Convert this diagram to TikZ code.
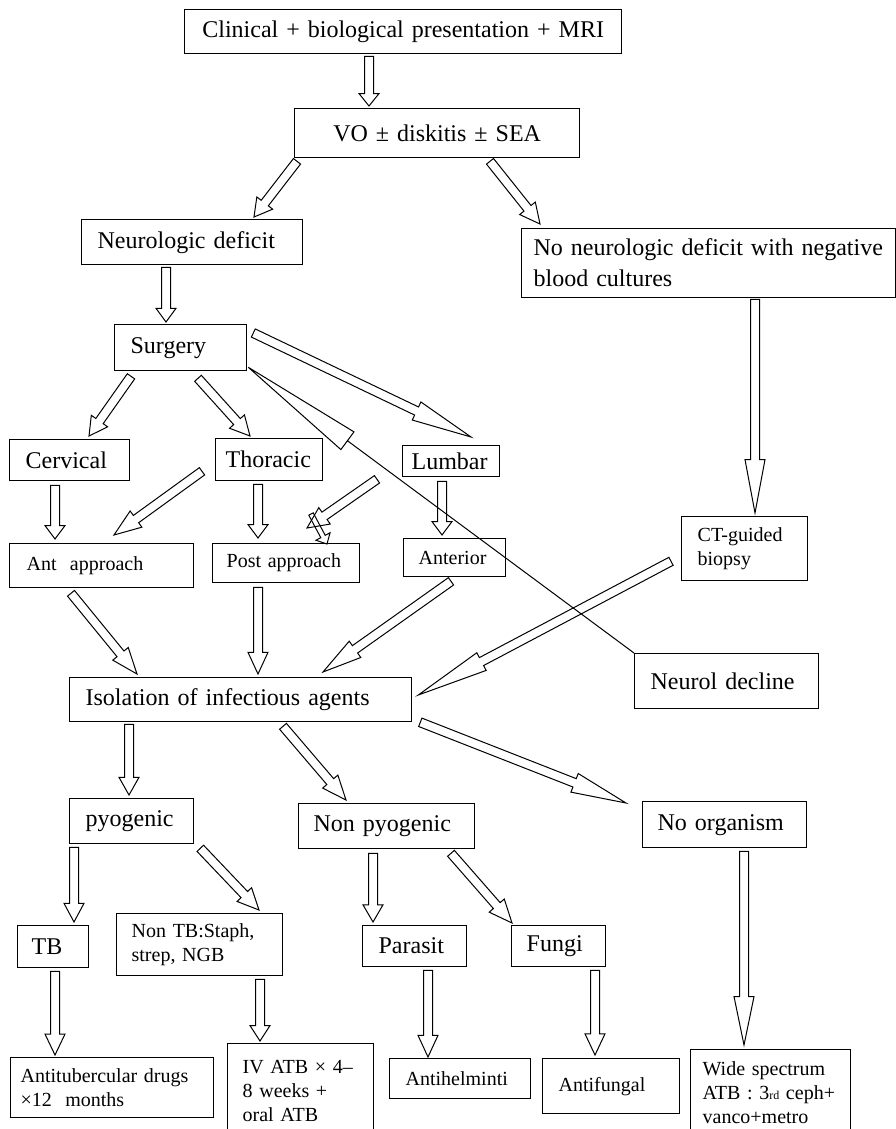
\documentclass[tikz,border=0pt]{standalone}
\usepackage{fontspec}
\setmainfont{Liberation Serif}
\usetikzlibrary{calc}

\newcommand{\bigtxt}{\fontsize{24}{31}\selectfont}
\newcommand{\smalltxt}{\fontsize{20}{24}\selectfont}
% hollow block arrow: [shaft half width]{tail}{tip}
\newcommand{\blk}[3][4.5]{%
  \pgfmathsetmacro\blkhw{#1+5.5}%
  \coordinate (ba) at (#2);
  \coordinate (bb) at (#3);
  \coordinate (bh) at ($(bb)!0.25!(ba)$);
  \draw[blkline] ($(ba)!#1pt!90:(bb)$) -- ($(bh)!#1pt!90:(bb)$) -- ($(bh)!\blkhw pt!90:(bb)$) -- (bb)
    -- ($(bh)!\blkhw pt!-90:(bb)$) -- ($(bh)!#1pt!-90:(bb)$) -- ($(ba)!#1pt!-90:(bb)$) -- cycle;}

\begin{document}
\begin{tikzpicture}[
    x=1pt, y=-1pt,
    box/.style={draw, line width=1.3pt, anchor=north west, inner ysep=0pt,
                align=left, font=\bigtxt},
    small/.style={font=\smalltxt},
    blkline/.style={line width=1pt, line join=miter},
  ]
  \useasboundingbox (0,0) rectangle (896,1129);

  % top
  \node[box, align=center, minimum width=437pt, minimum height=44pt, inner xsep=10pt, text width=417pt] (clin) at (184,9) {Clinical + biological presentation + MRI};
  \node[box, align=center, minimum width=285pt, minimum height=49pt, inner xsep=10pt, text width=265pt] (vo) at (294,108) {VO ± diskitis ± SEA};
  \node[box, minimum width=221pt, minimum height=45pt, inner xsep=16pt, text width=189pt] (neuro) at (81,219) {Neurologic deficit};
  \node[box, minimum width=374pt, minimum height=69pt, inner xsep=12pt, text width=350pt] (nond) at (521,228) {No neurologic deficit with negative\\blood cultures};

  % surgery
  \node[box, minimum width=132pt, minimum height=46pt, inner xsep=16pt, text width=100pt] (surg) at (114,324) {Surgery};
  \node[box, minimum width=120pt, minimum height=41pt, inner xsep=16pt, text width=88pt] (cerv) at (9,439) {Cervical};
  \node[box, minimum width=107pt, minimum height=42pt, inner xsep=10pt, text width=87pt] (thor) at (215,438) {Thoracic};
  \node[box, minimum width=97pt, minimum height=31pt, inner xsep=9pt, text width=79pt] (lumb) at (402,445) {Lumbar};
  \node[box, small, minimum width=184pt, minimum height=44pt, inner xsep=17pt, text width=150pt] (antap) at (9,543) {Ant\ \ approach};
  \node[box, small, minimum width=147pt, minimum height=39pt, inner xsep=14pt, text width=119pt] (postap) at (212,543) {Post approach};
  \node[box, small, minimum width=102pt, minimum height=38pt, inner xsep=15pt, text width=72pt] (anter) at (403,538) {Anterior};
  \node[box, small, minimum width=126pt, minimum height=64pt, inner xsep=16pt, text width=94pt] (ct) at (681,516) {CT-guided\\biopsy};
  \node[box, minimum width=342pt, minimum height=44pt, inner xsep=16pt, text width=310pt] (iso) at (69,677) {Isolation of infectious agents};
  \node[box, minimum width=184pt, minimum height=55pt, inner xsep=16pt, text width=152pt] (ndec) at (634,653) {Neurol decline};

  % agents
  \node[box, minimum width=124pt, minimum height=45pt, inner xsep=16pt, text width=92pt] (pyo) at (69,798) {pyogenic};
  \node[box, minimum width=176pt, minimum height=45pt, inner xsep=15pt, text width=146pt] (npyo) at (298,803) {Non pyogenic};
  \node[box, minimum width=164pt, minimum height=46pt, inner xsep=15pt, text width=134pt] (norg) at (642,801) {No organism};
  \node[box, minimum width=71pt, minimum height=42pt, inner xsep=14pt, text width=43pt] (tb) at (17,925) {TB};
  \node[box, small, minimum width=166pt, minimum height=62pt, inner xsep=15pt, text width=136pt] (ntb) at (116,913) {Non TB:Staph,\\strep, NGB};
  \node[box, minimum width=104pt, minimum height=41pt, inner xsep=16pt, text width=72pt] (para) at (362,925) {Parasit};
  \node[box, minimum width=94pt, minimum height=41pt, inner xsep=15pt, text width=64pt] (fung) at (511,925) {Fungi};

  % treatment
  \node[box, small, minimum width=203pt, minimum height=60pt, inner xsep=10pt, text width=183pt] (antit) at (10,1057) {Antitubercular drugs\\×12\ \ months};
  \node[box, small, minimum width=146pt, minimum height=94pt, inner xsep=15pt, text width=116pt] (ivatb) at (227,1043) {IV ATB × 4–\\8 weeks +\\oral ATB};
  \node[box, small, minimum width=141pt, minimum height=40pt, inner xsep=16pt, text width=109pt] (antih) at (389,1058) {Antihelminti};
  \node[box, small, minimum width=137pt, minimum height=55pt, inner xsep=16pt, text width=105pt] (antif) at (542,1058) {Antifungal};
  \node[box, small, minimum width=160pt, minimum height=86pt, inner xsep=12pt, text width=136pt] (wide) at (690,1049) {Wide spectrum\\ATB : 3{\fontsize{12}{12}\selectfont rd} ceph+\\vanco+metro};

  % arrows
  \blk{$(clin.south west)+(185,2)$}{$(vo.north west)+(75,-2)$}
  \blk{$(vo.south west)+(3,3)$}{$(neuro.north west)+(173,-2)$}
  \blk{$(vo.south west)+(196,3)$}{$(nond.north west)+(19,-4)$}
  \blk{$(neuro.south west)+(85,2)$}{$(surg.north west)+(52,-2)$}
  \blk{$(nond.south west)+(234,1)$}{$(ct.north west)+(74,-3)$}
  \blk{$(surg.south west)+(17,5)$}{$(cerv.north west)+(80,-3)$}
  \blk{$(surg.south west)+(84,7)$}{$(thor.north west)+(35,-2)$}
  \blk{$(surg.north east)+(6,9)$}{$(lumb.north west)+(69,-8)$}
  \blk{$(cerv.south west)+(46,4)$}{$(antap.north west)+(46,-4)$}
  \blk{$(thor.south west)+(-13,-10)$}{$(antap.north west)+(105,-8)$}
  \blk{$(thor.south west)+(43,3)$}{$(postap.north west)+(46,-5)$}
  \blk{$(lumb.south west)+(-25,2)$}{$(postap.north west)+(95,-15)$}
  \coordinate (stub) at ($(postap.north west)+(99,-29)$);
  \blk[2.5]{stub}{$(postap.north west)+(115,1)$}
  \blk{$(lumb.south west)+(40,4)$}{$(anter.north west)+(39,-3)$}
  \blk{$(antap.south west)+(62,5)$}{$(iso.north west)+(68,-3)$}
  \blk{$(postap.south west)+(46,4)$}{$(iso.north west)+(189,-3)$}
  \blk{$(anter.south west)+(48,4)$}{$(iso.north west)+(254,-5)$}
  \blk{$(ct.south west)+(-10,-20)$}{$(iso.north east)+(6,18)$}
  \blk{$(iso.south west)+(60,2)$}{$(pyo.north west)+(60,-3)$}
  \blk{$(iso.south west)+(214,4)$}{$(npyo.north west)+(48,-3)$}
  \blk{$(iso.south east)+(8,0)$}{$(norg.north west)+(-16,2)$}
  \blk{$(pyo.south west)+(5,3)$}{$(tb.north west)+(57,-3)$}
  \blk{$(pyo.south east)+(6,4)$}{$(ntb.north west)+(143,-3)$}
  \blk{$(npyo.south west)+(75,4)$}{$(para.north west)+(11,-3)$}
  \blk{$(npyo.south west)+(153,4)$}{$(fung.north west)+(1,-2)$}
  \blk{$(norg.south west)+(102,3)$}{$(wide.north west)+(54,-4)$}
  \blk{$(tb.south west)+(38,3)$}{$(antit.north west)+(45,-2)$}
  \blk{$(ntb.south west)+(144,3)$}{$(ivatb.north west)+(33,-2)$}
  \blk{$(para.south west)+(66,3)$}{$(antih.north west)+(39,-1)$}
  \blk{$(fung.south west)+(84,3)$}{$(antif.north west)+(53,-3)$}

  % neurol decline back to surgery
  \coordinate (tip) at ($(surg.south east)+(1,-4)$);
  \coordinate (hb) at ($(tip)!0.257!(ndec.north west)$);
  \draw[blkline] (ndec.north west) -- (hb) -- ($(hb)!11pt!90:(tip)$) -- (tip)
    -- ($(hb)!11pt!-90:(tip)$) -- (hb);
\end{tikzpicture}
\end{document}
